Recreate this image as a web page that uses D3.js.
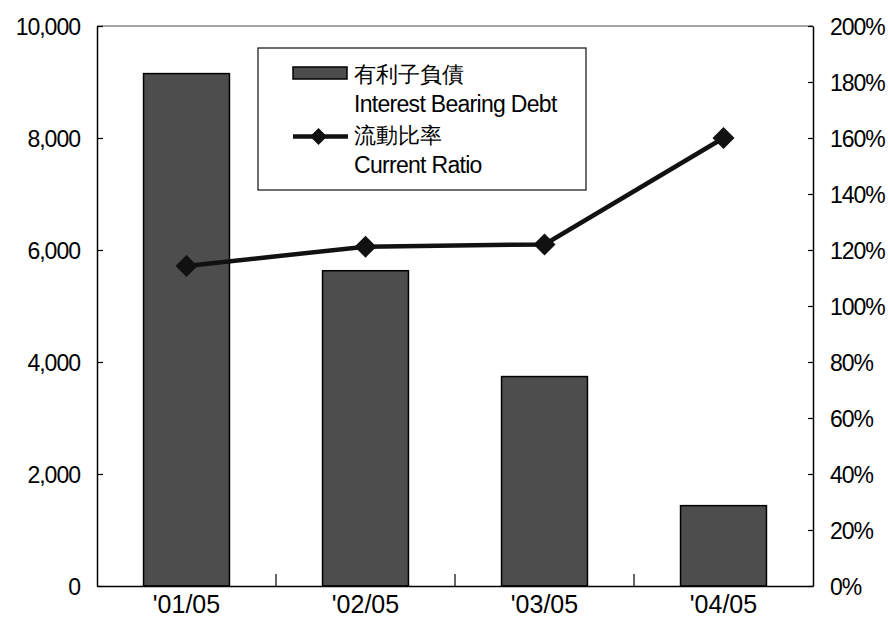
<!DOCTYPE html>
<html>
<head>
<meta charset="utf-8">
<script src="https://cdn.jsdelivr.net/npm/d3@7/dist/d3.min.js"></script>
<style>
  html, body { margin: 0; padding: 0; background: #fff; overflow: hidden; }
  svg { display: block; }
  text { font-family: "Liberation Sans", Arial, sans-serif; fill: #000; }
</style>
</head>
<body>
<svg id="chart" width="888" height="618"></svg>
<script>
// ---- data ----
const categories = ["'01/05", "'02/05", "'03/05", "'04/05"];
const debtValues = [9150, 5630, 3740, 1435];          // 有利子負債 Interest Bearing Debt
const ratioValues = [114.3, 121.2, 122.0, 160.0];     // 流動比率 Current Ratio (%)
const leftTicks = [0, 2000, 4000, 6000, 8000, 10000];
const rightTicks = [0, 20, 40, 60, 80, 100, 120, 140, 160, 180, 200];
const legendLabels = [
  ["有利子負債", "Interest Bearing Debt"],
  ["流動比率", "Current Ratio"]
];

// ---- layout ----
const svg = d3.select("#chart");
const L = 97, R = 813, T = 26, B = 586;
const FONT = 23;

const x = d3.scaleBand().domain(categories).range([L, R]).paddingInner(0.52).paddingOuter(0.26);
const yL = d3.scaleLinear().domain([0, 10000]).range([B, T]);
const yR = d3.scaleLinear().domain([0, 200]).range([B, T]);

// top border of plot area
svg.append("line").attr("x1", L).attr("x2", R).attr("y1", T).attr("y2", T)
  .attr("stroke", "#8a8a8a").attr("stroke-width", 1.5);

// bars
svg.append("g").selectAll("rect").data(debtValues).join("rect")
  .attr("x", (d, i) => x(categories[i]))
  .attr("y", d => yL(d))
  .attr("width", x.bandwidth())
  .attr("height", d => B - yL(d))
  .attr("fill", "#4d4d4d")
  .attr("stroke", "#000")
  .attr("stroke-width", 1.5);

// left axis
const gL = svg.append("g").attr("transform", `translate(${L},0)`)
  .call(d3.axisLeft(yL).tickValues(leftTicks).tickSizeInner(-6).tickSizeOuter(0).tickPadding(17)
    .tickFormat(d3.format(",")));
// right axis
const gR = svg.append("g").attr("transform", `translate(${R},0)`)
  .call(d3.axisRight(yR).tickValues(rightTicks).tickSizeInner(-5).tickSizeOuter(0).tickPadding(17)
    .tickFormat(d => d + "%"));
// bottom axis
const gB = svg.append("g").attr("transform", `translate(0,${B})`)
  .call(d3.axisBottom(x).tickSize(0).tickPadding(9));

[gL, gR, gB].forEach(g => {
  g.select(".domain").attr("stroke", "#000").attr("stroke-width", 1.5);
  g.selectAll(".tick line").attr("stroke", "#000").attr("stroke-width", 1.2);
  g.selectAll("text").attr("font-size", FONT).attr("letter-spacing", "-1px")
    .attr("font-family", "'Liberation Sans', Arial, sans-serif").attr("fill", "#000");
});
gL.selectAll("text").attr("dy", "0.36em");
gR.selectAll("text").attr("dy", "0.36em");
gB.selectAll("text").attr("font-size", 25).attr("letter-spacing", "0px");

// category boundary ticks (upward)
const gap = (x.step() - x.bandwidth()) / 2;
svg.append("g").selectAll("line").data(categories.slice(1)).join("line")
  .attr("x1", d => x(d) - gap).attr("x2", d => x(d) - gap)
  .attr("y1", B).attr("y2", B - 12)
  .attr("stroke", "#000").attr("stroke-width", 1.2);

// ratio line
const cx = (d, i) => x(categories[i]) + x.bandwidth() / 2;
svg.append("path").datum(ratioValues)
  .attr("d", d3.line().x(cx).y(d => yR(d)))
  .attr("fill", "none").attr("stroke", "#111").attr("stroke-width", 4.5);
const diamondPath = (() => { const s = 11; return `M0,${-s}L${s},0L0,${s}L${-s},0Z`; })();
svg.append("g").selectAll("path").data(ratioValues).join("path")
  .attr("transform", (d, i) => `translate(${cx(d, i)},${yR(d)})`)
  .attr("d", diamondPath).attr("fill", "#111");

// legend
const lg = svg.append("g");
lg.append("rect").attr("x", 258).attr("y", 48).attr("width", 328).attr("height", 142)
  .attr("fill", "#fff").attr("stroke", "#222").attr("stroke-width", 1.3);
lg.append("rect").attr("x", 293).attr("y", 67).attr("width", 54).attr("height", 12)
  .attr("fill", "#4d4d4d").attr("stroke", "#000").attr("stroke-width", 1.5);
lg.append("line").attr("x1", 293).attr("x2", 348).attr("y1", 136.5).attr("y2", 136.5)
  .attr("stroke", "#111").attr("stroke-width", 4.5);
lg.append("path").attr("transform", "translate(318.5,136.5)")
  .attr("d", "M0,-8.5L8.5,0L0,8.5L-8.5,0Z").attr("fill", "#111");

const cjk = "'Noto Sans CJK JP', 'Noto Sans CJK SC', sans-serif";
const rows = [
  { t: legendLabels[0][0], y: 82, cjk: true },
  { t: legendLabels[0][1], y: 112, cjk: false },
  { t: legendLabels[1][0], y: 143, cjk: true },
  { t: legendLabels[1][1], y: 173, cjk: false }
];
lg.selectAll("text.lt").data(rows).join("text").attr("class", "lt")
  .attr("x", 354).attr("y", d => d.y)
  .attr("font-size", d => d.cjk ? 22 : FONT)
  .attr("letter-spacing", d => d.cjk ? "0px" : "-0.7px")
  .attr("font-family", d => d.cjk ? cjk : "'Liberation Sans', Arial, sans-serif")
  .text(d => d.t);
</script>
</body>
</html>
